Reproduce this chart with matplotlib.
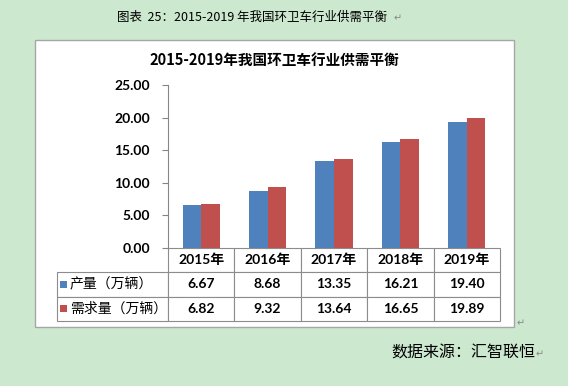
import numpy as np
import matplotlib
matplotlib.use("Agg")
import matplotlib.pyplot as plt
from matplotlib.patches import Rectangle

plt.rcParams['font.family'] = ['Noto Sans CJK SC', 'DejaVu Sans']
num_font = ['Lato', 'Noto Sans CJK SC']

years = ['2015年', '2016年', '2017年', '2018年', '2019年']
output = [6.67, 8.68, 13.35, 16.21, 19.40]
demand = [6.82, 9.32, 13.64, 16.65, 19.89]
series_names = ['产量（万辆）', '需求量（万辆）']
yticks = [0, 5, 10, 15, 20, 25]

blue = '#4F81BD'
red = '#C0504D'
W, H = 568, 386

fig = plt.figure(figsize=(W / 100, H / 100), dpi=100)
fig.patch.set_facecolor('#CCE8CF')

# white chart box, behind the axes
fig.patches.append(Rectangle((35 / W, 1 - 327 / H), (514 - 35) / W, (327 - 40) / H,
                             transform=fig.transFigure, facecolor='white',
                             edgecolor='#A6A6A6', linewidth=1.0, zorder=-1))

# axes in pixel terms: x 168-500, y 85-248
ax = fig.add_axes([168 / W, 1 - 248 / H, (500 - 168) / W, (248 - 85) / H])
ax.set_facecolor('none')
x = np.arange(len(years))
bw = 0.28
ax.bar(x - bw / 2, output, bw, color=blue, zorder=2)
ax.bar(x + bw / 2, demand, bw, color=red, zorder=2)
ax.set_xlim(-0.5, len(years) - 0.5)
ax.set_ylim(0, 25)
ax.set_yticks(yticks)
ax.set_yticklabels([f'{v:.2f}' for v in yticks], fontsize=10, fontweight='bold',
                   family=num_font)
ax.set_xticks([])
for s in ['top', 'right', 'bottom']:
    ax.spines[s].set_visible(False)
ax.spines['left'].set_color('#868686')
ax.tick_params(axis='y', length=4, color='#868686', pad=9)

# data table under the bars
lab_w = 111 / 332
tbl_h = 73 / 163
cell_text = [[''] + [f'{v:.2f}' for v in output],
             [''] + [f'{v:.2f}' for v in demand]]
tbl = ax.table(cellText=cell_text, colLabels=[''] + years, cellLoc='center',
               colWidths=[111] + [66.4] * 5,
               bbox=[-lab_w, -tbl_h, 1 + lab_w, tbl_h])
tbl.auto_set_font_size(False)
tbl.set_fontsize(10)
for (r, c), cell in tbl.get_celld().items():
    cell.set_edgecolor('#8C8C8C')
    cell.set_linewidth(0.8)
    cell.get_text().set_fontweight('bold')
    cell.get_text().set_family(num_font)
tbl[0, 0].set_edgecolor('none')
tbl[0, 0].set_facecolor('none')

row_h = tbl_h / 3
for i, (name, col) in enumerate(zip(series_names, [blue, red])):
    yc = -row_h * (i + 1.5)
    ax.add_patch(Rectangle(((60 - 168) / 332, yc - 3.5 / 163), 7 / 332, 7 / 163,
                           transform=ax.transAxes, facecolor=col, clip_on=False))
    ax.text((70 - 168) / 332, yc, name, transform=ax.transAxes, ha='left', va='center',
            fontsize=10)

fig.text(274 / W, 1 - 60 / H, '2015-2019年我国环卫车行业供需平衡', ha='center', va='center',
         fontsize=10.5, fontweight='bold')
fig.text(252 / W, 1 - 17 / H, '图表  25：2015-2019 年我国环卫车行业供需平衡', ha='center',
         va='center', fontsize=9)
fig.text(394 / W, 1 - 18 / H, '↵', ha='left', va='center', fontsize=7, color='#888888')
fig.text(517 / W, 1 - 323 / H, '↵', ha='left', va='center', fontsize=7, color='#888888')
fig.text(391 / W, 1 - 353 / H, '数据来源：汇智联恒', ha='left', va='center', fontsize=11.5)
fig.text(536 / W, 1 - 354 / H, '↵', ha='left', va='center', fontsize=7, color='#888888')

fig.savefig('out.png', dpi=100, facecolor=fig.get_facecolor())
